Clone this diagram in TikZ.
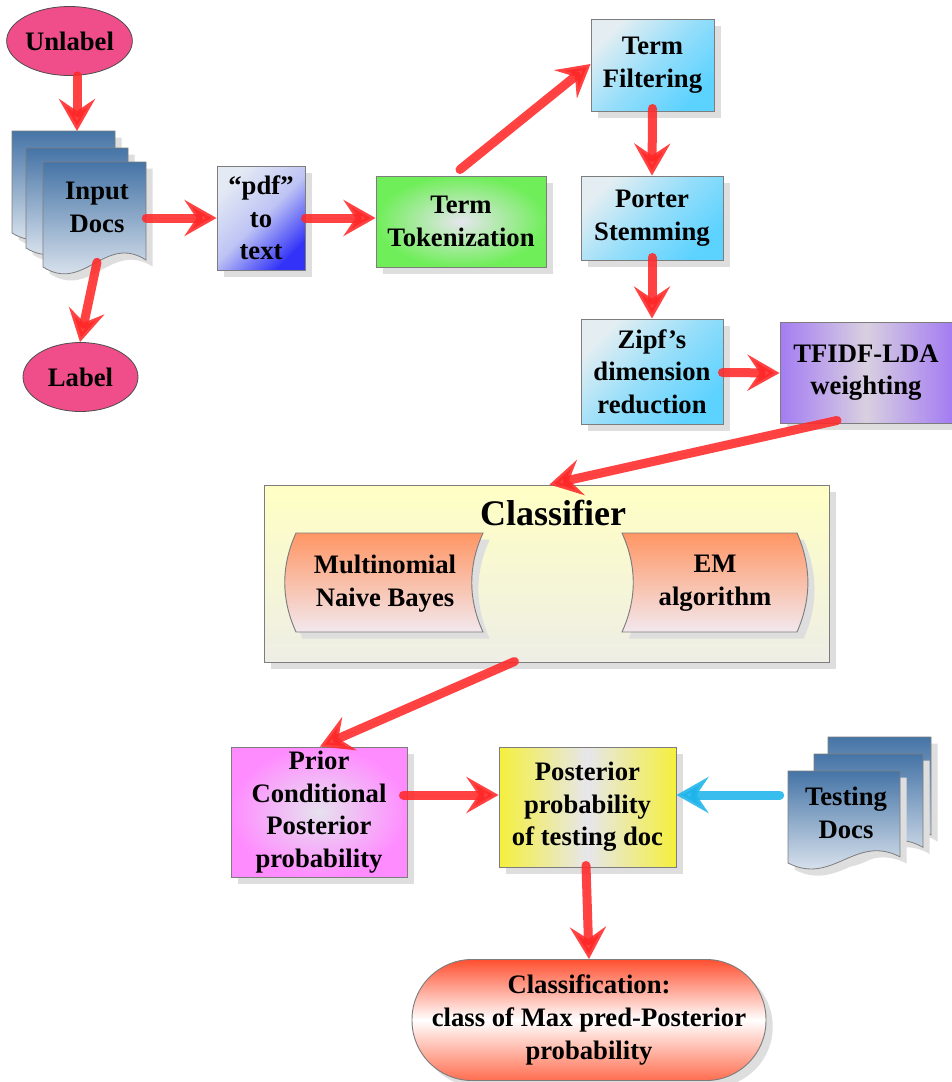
\documentclass[tikz,border=0pt]{standalone}
\usepackage{fontspec}
\setmainfont{Liberation Serif}
\usetikzlibrary{shapes.geometric,arrows.meta,shadows,calc}

\definecolor{redarr}{RGB}{255,40,40}
\definecolor{bluearr}{RGB}{30,180,235}
\definecolor{bord}{RGB}{125,125,125}
\definecolor{pinkell}{RGB}{240,78,138}
\definecolor{doctop}{RGB}{69,116,166}
\definecolor{docbot}{RGB}{240,243,248}
\definecolor{pdflt}{RGB}{228,234,244}
\definecolor{pdfmid}{RGB}{190,196,244}
\definecolor{pdfdk}{RGB}{50,50,248}
\definecolor{grnout}{RGB}{112,238,90}
\definecolor{grnin}{RGB}{230,230,238}
\definecolor{cyanlt}{RGB}{228,238,242}
\definecolor{cyanmid}{RGB}{150,222,250}
\definecolor{cyandk}{RGB}{92,210,255}
\definecolor{purp}{RGB}{164,124,242}
\definecolor{purpmid}{RGB}{216,208,224}
\definecolor{clstop}{RGB}{255,255,196}
\definecolor{clsbot}{RGB}{238,238,230}
\definecolor{orgtop}{RGB}{255,150,100}
\definecolor{orgbot}{RGB}{242,232,238}
\definecolor{magout}{RGB}{255,140,255}
\definecolor{magin}{RGB}{230,226,238}
\definecolor{yel}{RGB}{245,240,60}
\definecolor{yelmid}{RGB}{230,230,236}
\definecolor{cftop}{RGB}{255,80,48}
\definecolor{cfbot}{RGB}{255,110,80}
\definecolor{shadowc}{RGB}{222,222,222}

\newcommand\docpage[4]{%
  \path[docpg] (#1,#2) -- ({#1+#3},#2) -- ({#1+#3},{#2+0.933*#4})
    .. controls ({#1+0.6*#3},{#2+0.68*#4}) and ({#1+0.4*#3},{#2+1.25*#4}) .. (#1,{#2+#4}) -- cycle;}

\begin{document}
\begin{tikzpicture}[x=0.75pt,y=-0.75pt,
  mainf/.style={font=\fontsize{20}{24.5}\selectfont\bfseries},
  myshadow/.style={drop shadow={shadow xshift=5pt, shadow yshift=-5pt, fill=shadowc, opacity=1}},
  sz/.style 2 args={minimum width=#1*0.75pt, minimum height=#2*0.75pt},
  box/.style={draw=bord, line width=0.7pt, inner sep=0pt, align=center, mainf, myshadow},
  txt/.style={inner sep=0pt, align=center, mainf},
  ghost/.style={inner sep=0pt},
  ell/.style={ellipse, draw=black!70, line width=0.6pt, fill=pinkell, inner sep=0pt, mainf, sz={115}{69}},
  docpg/.style={draw=bord, line width=0.6pt, top color=doctop, bottom color=docbot, myshadow},
  stored/.style={draw=bord, line width=0.7pt, top color=orgtop, bottom color=orgbot, myshadow},
  arr/.style={draw=redarr, fill=redarr, opacity=0.88, line width=6.75pt, line cap=round,
    -{Stealth[length=24pt,width=27pt,inset=9pt]}},
  barr/.style={arr, draw=bluearr, fill=bluearr}
]
\path[use as bounding box, fill=white] (0,0) rectangle (951,1082);

% ---------- Input docs ----------
\docpage{12}{131}{103}{102}
\docpage{26}{148}{102}{100}
\docpage{43}{162}{103}{105}
\node[ghost, sz={103}{105}] (indocs) at (94.5,214.5) {};
\node[txt] (indocstext) at (97,207.5) {Input\\Docs};
\coordinate (inback) at (77,131);

% ---------- ellipses ----------
\node[ell] (unlabel) at (69.5,41) {Unlabel};
\node[ell] (label) at (80.5,377) {Label};

% ---------- top boxes ----------
\node[box, sz={88}{104}, top color=pdflt, bottom color=pdfdk, middle color=pdfmid, shading angle=45] (pdf) at (261,218) {``pdf''\\to\\text};
\node[box, sz={170}{91}, inner color=grnin, outer color=grnout] (token) at (461,221.5) {Term\\Tokenization};
\node[box, sz={123}{92}, top color=cyanlt, bottom color=cyandk, middle color=cyanmid, shading angle=45] (filter) at (652.5,65) {Term\\Filtering};
\node[box, sz={142}{84}, top color=cyanlt, bottom color=cyandk, middle color=cyanmid, shading angle=45] (porter) at (652,218) {Porter\\Stemming};
\node[box, sz={142}{105}, top color=cyanlt, bottom color=cyandk, middle color=cyanmid, shading angle=45] (zipf) at (652,371.5) {Zipf's\\dimension\\reduction};
\node[box, sz={172}{101}, left color=purp, right color=purp, middle color=purpmid] (tfidf) at (866,372.5) {TFIDF-LDA\\weighting};

% ---------- classifier ----------
\node[box, sz={565}{177}, top color=clstop, bottom color=clsbot] (classifier) at (546.5,573.5) {};
\node[txt, font=\fontsize{27}{32}\selectfont\bfseries] (cltitle) at (553,513) {Classifier};
\path[stored] (296,533) -- (483,533) .. controls (468,566) and (468,599) .. (483,632)
  -- (296,632) .. controls (281,599) and (281,566) .. (296,533) -- cycle;
\path[stored] (622,533) -- (797,533) .. controls (811.5,566) and (811.5,599) .. (797,632)
  -- (622,632) .. controls (637,599) and (637,566) .. (622,533) -- cycle;
\node[txt] (mnb) at (385,583.5) {Multinomial\\Naive Bayes};
\node[txt] (em) at (715,583.5) {EM\\algorithm};

% ---------- bottom ----------
\node[box, sz={176}{130}, inner color=magin, outer color=magout] (prior) at (319,812) {Prior\\Conditional\\Posterior\\probability};
\node[box, sz={177}{120}, left color=yel, right color=yel, middle color=yelmid] (post) at (587.5,807) {Posterior\\probability\\of testing doc};

\docpage{828}{737}{103}{105}
\docpage{814}{754}{109}{100}
\docpage{788}{771}{112}{92}
\node[ghost, sz={112}{92}] (tdocs) at (844,817) {};
\node[txt] (tdocstext) at (846,813) {Testing\\Docs};

\node[box, sz={354}{121}, rounded corners=45pt, top color=cftop, bottom color=cfbot, middle color=white] (classif) at (589,1020) {Classification:\\class of Max pred-Posterior\\probability};

% ---------- connectors ----------
\draw[arr] ($(unlabel.south)+(7.5,0)$) -- (inback);
\draw[arr] ($(indocs.south)+(2.5,-5)$) -- ($(label.north)+(-0.5,0)$);
\draw[arr] (pdf.west -| indocs.east) -- (pdf.west);
\draw[arr] (pdf.east) -- (pdf.east -| token.west);
\draw[arr] ($(token.north)+(-1,-6)$) -- ($(filter.west)+(0,-1)$);
\draw[arr] ($(filter.south)+(0,-3)$) -- (porter.north);
\draw[arr] ($(porter.south)+(0,-3)$) -- (zipf.north);
\draw[arr] ($(zipf.east)+(-1,1)$) -- ($(tfidf.west)+(0,0.5)$);
\draw[arr] ($(tfidf.south)+(-29,-3)$) -- ($(classifier.north)+(3,0)$);
\draw[arr] ($(classifier.south)+(-32,-1)$) -- ($(prior.north)+(1,0)$);
\draw[arr] ($(prior.east)+(-4,-17)$) -- ($(post.west)+(0,-12)$);
\draw[barr] ($(tdocs.west)+(-8,-22)$) -- ($(post.east)+(0,-12)$);
\draw[arr] ($(post.south)+(-1.5,-2)$) -- (classif.north);
\end{tikzpicture}
\end{document}
